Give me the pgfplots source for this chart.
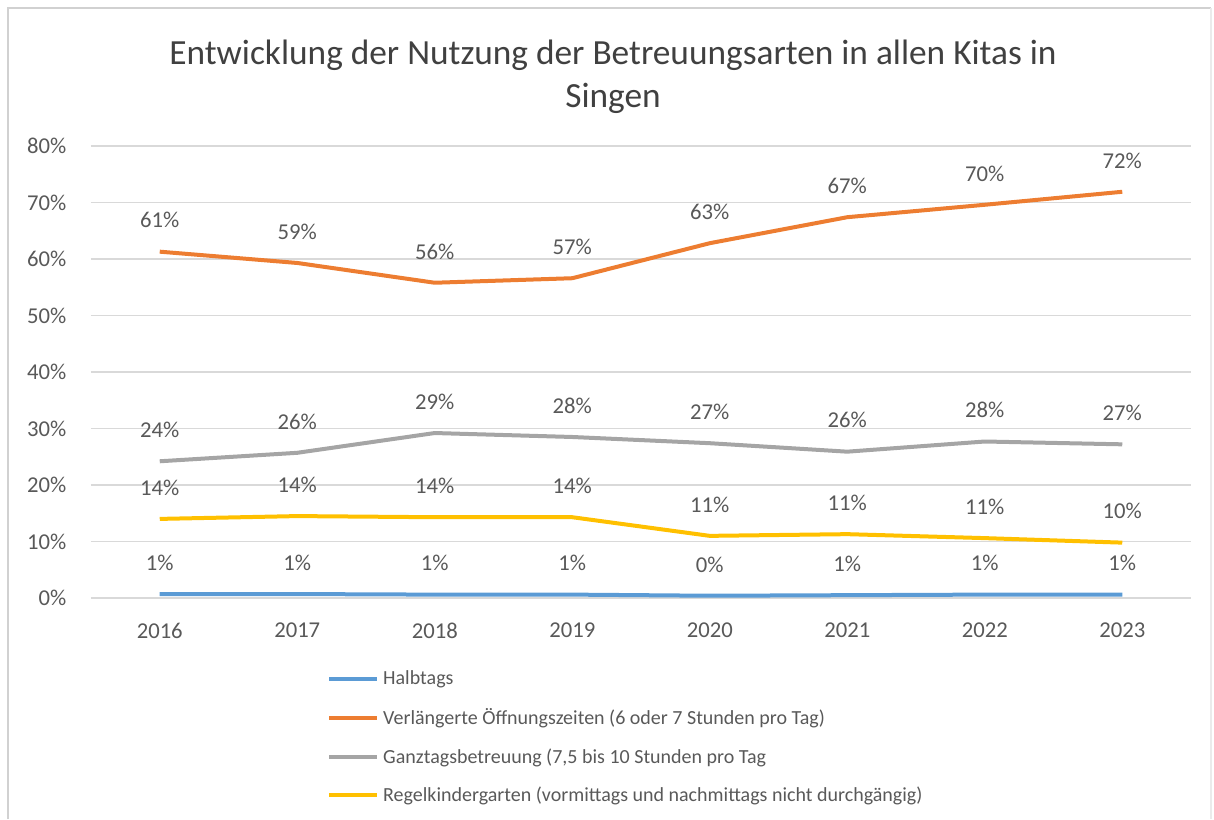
\documentclass[border=0pt]{standalone}
\usepackage{pgfplots}
\pgfplotsset{compat=1.18}
\usepackage{fontspec}
\setmainfont{Carlito}
\definecolor{cblue}{HTML}{5B9BD5}
\definecolor{corange}{HTML}{ED7D31}
\definecolor{cgray}{HTML}{A5A5A5}
\definecolor{cyellow}{HTML}{FFC000}
\definecolor{gridc}{HTML}{D9D9D9}
\definecolor{txt}{HTML}{595959}
\begin{document}
\begin{tikzpicture}[x=1pt,y=1pt]
% picture bounds: 1 px = 0.75pt ; axis lower-left at pixel (91,598)
\path[use as bounding box] (-68.25,-165.75) rectangle (842.25,448.5);
\draw[color=black!18, line width=1.2pt] (-62.25,-165.75) -- (-62.25,442.5) -- (840,442.5);
\draw[color=black!8, line width=1pt] (840,442.5) -- (840,-165.75);
\begin{axis}[
  at={(0,0)}, anchor=south west,
  scale only axis, width=825pt, height=339pt,
  xmin=-0.5, xmax=7.5, ymin=0, ymax=80,
  xtick={0,...,7},
  xticklabels={2016,2017,2018,2019,2020,2021,2022,2023},
  ytick={0,10,...,80},
  yticklabel={\pgfmathprintnumber{\tick}\%},
  /pgf/number format/assume math mode=true,
  ymajorgrids, grid style={gridc, line width=0.9pt},
  axis line style={draw=none},
  axis x line*=bottom,
  tick style={draw=none},
  ticklabel style={font=\fontsize{17}{20}\selectfont, text=txt},
  yticklabel style={xshift=-15pt},
  xticklabel style={yshift=-15pt},
  every axis plot/.append style={line width=3pt, no markers},
  point meta=explicit symbolic,
  nodes near coords,
  every node near coord/.append style={anchor=center, yshift=23.5pt, font=\fontsize{17}{20}\selectfont, text=txt},
  legend cell align=left,
  legend style={draw=none, fill=none, at={(0.2145,-0.16)}, anchor=north west,
    font=\fontsize{15}{18}\selectfont, text=txt, row sep=16.5pt, inner sep=0pt,
    nodes={inner xsep=3pt, inner ysep=0pt}},
  legend image code/.code={\draw[#1, line width=3pt] (0pt,0pt) -- (36pt,0pt);},
  clip=false,
]
\draw[gridc, line width=0.9pt] (axis cs:-0.5,0) -- (axis cs:7.5,0);
\addplot[cblue] coordinates {(0,0.7)[1\%] (1,0.7)[1\%] (2,0.6)[1\%] (3,0.6)[1\%] (4,0.4)[0\%] (5,0.5)[1\%] (6,0.6)[1\%] (7,0.6)[1\%]};
\addlegendentry{Halbtags}
\addplot[corange] coordinates {(0,61.3)[61\%] (1,59.3)[59\%] (2,55.8)[56\%] (3,56.6)[57\%] (4,62.8)[63\%] (5,67.4)[67\%] (6,69.6)[70\%] (7,71.9)[72\%]};
\addlegendentry{Verlängerte Öffnungszeiten (6 oder 7 Stunden pro Tag)}
\addplot[cgray] coordinates {(0,24.2)[24\%] (1,25.7)[26\%] (2,29.2)[29\%] (3,28.5)[28\%] (4,27.4)[27\%] (5,25.9)[26\%] (6,27.7)[28\%] (7,27.2)[27\%]};
\addlegendentry{Ganztagsbetreuung (7,5 bis 10 Stunden pro Tag}
\addplot[cyellow] coordinates {(0,14.0)[14\%] (1,14.5)[14\%] (2,14.3)[14\%] (3,14.3)[14\%] (4,11.0)[11\%] (5,11.3)[11\%] (6,10.6)[11\%] (7,9.8)[10\%]};
\addlegendentry{Regelkindergarten (vormittags und nachmittags nicht durchgängig)}
\end{axis}
\node[text=black!75, font=\fontsize{26.5}{30}\selectfont] at (391.5,407) {Entwicklung der Nutzung der Betreuungsarten in allen Kitas in};
\node[text=black!75, font=\fontsize{26.5}{30}\selectfont] at (391.5,374.5) {Singen};
\end{tikzpicture}
\end{document}
